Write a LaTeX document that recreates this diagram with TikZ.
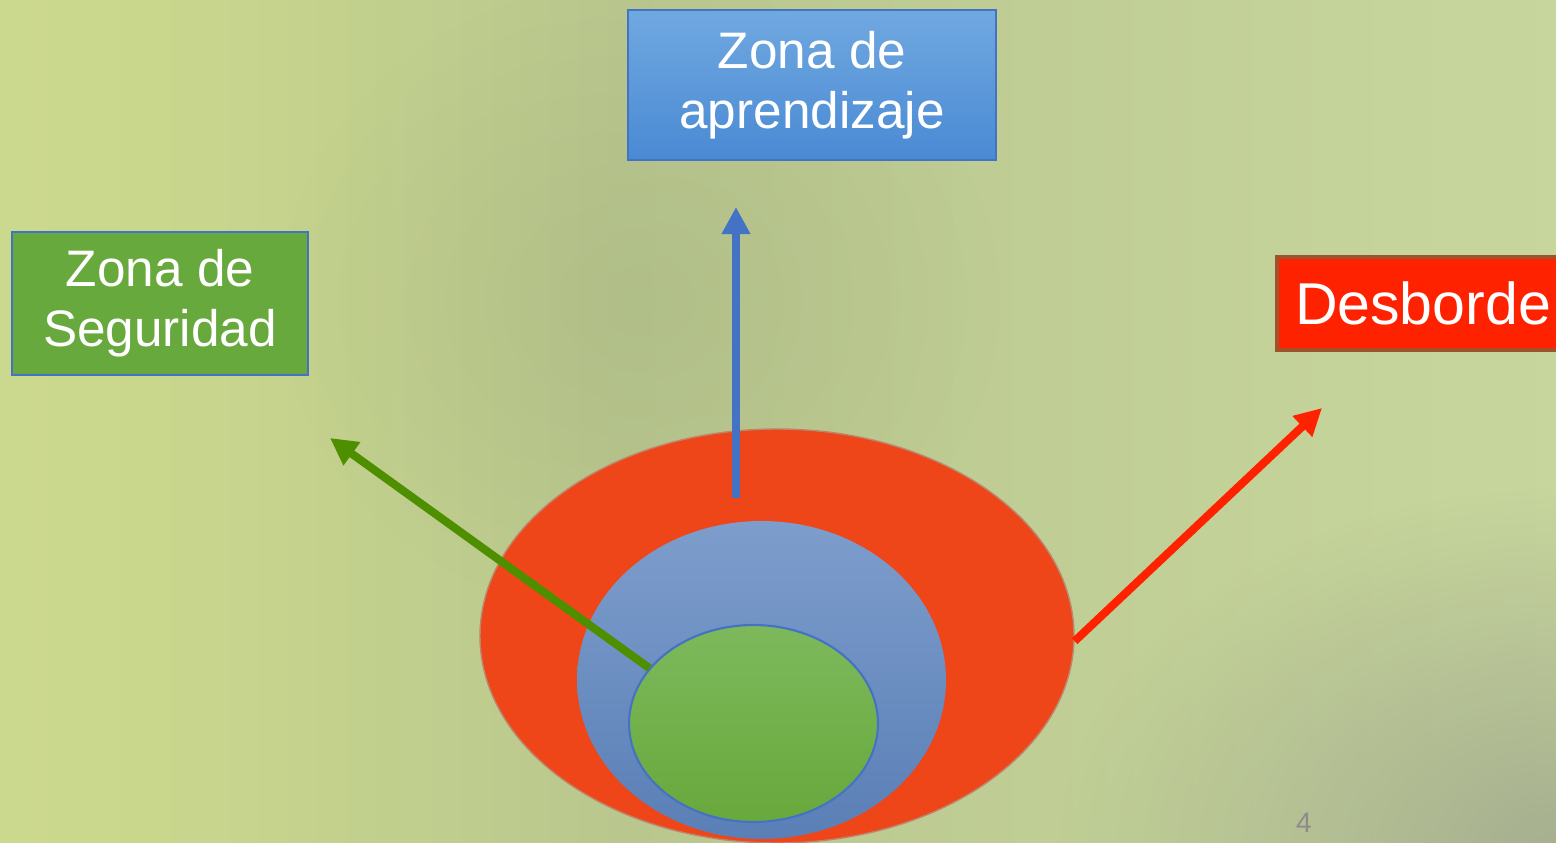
\documentclass[tikz,border=0pt]{standalone}
\usepackage{fontspec}
\setmainfont{Liberation Sans}
\usetikzlibrary{shapes.geometric,arrows.meta,fadings}
\definecolor{bgA}{HTML}{D6E392}
\definecolor{bgB}{HTML}{C9D78D}
\definecolor{bgC}{HTML}{B9C78E}
\definecolor{bgD}{HTML}{C6D59B}
\definecolor{bgE}{HTML}{CCDBA6}
\definecolor{bgDark}{HTML}{989E8A}
\definecolor{learnTop}{HTML}{70A8E0}
\definecolor{learnBot}{HTML}{4A8AD4}
\definecolor{safeFill}{HTML}{68A93E}
\definecolor{overFill}{HTML}{FF2200}
\definecolor{overFrame}{HTML}{A0522D}
\definecolor{frameBlue}{HTML}{4472C4}
\definecolor{outerFill}{HTML}{EE4519}
\definecolor{midTop}{HTML}{7D9DCC}
\definecolor{midBot}{HTML}{5A7FB6}
\definecolor{coreTop}{HTML}{7DB95C}
\definecolor{coreBot}{HTML}{68A83C}
\definecolor{arrGreen}{HTML}{4E8F00}
\pgfdeclarehorizontalshading{bgshade}{100bp}{color(0bp)=(bgA); color(30bp)=(bgB); color(45bp)=(bgC); color(72bp)=(bgD); color(100bp)=(bgE)}
\tikzfading[name=softblob,inner color=transparent!0,outer color=transparent!100]
\begin{document}
\begin{tikzpicture}[
    zonebox/.style={draw=frameBlue,line width=0.6pt,text=white,align=center,inner sep=0pt,font=\fontsize{14.6}{17.2}\selectfont},
    zone/.style={ellipse,inner sep=0pt},
    push/.style={line width=2.3pt,-{Triangle[width=7.7pt,length=7.7pt]}}
  ]
  \useasboundingbox (0,0) rectangle (15.56,-8.43);
  \shade[shading=bgshade] (0,0) rectangle (15.56,-8.43);
  \fill[bgDark,opacity=0.7,path fading=softblob] (15.6,-8.5) ellipse (5 and 3.6);
  \fill[bgC!85!black,opacity=0.3,path fading=softblob] (6.4,-3.0) ellipse (3.6 and 3.2);

  \node[zonebox,top color=learnTop,bottom color=learnBot,minimum width=3.68cm,minimum height=1.50cm] (learn) at (8.12,-0.85) {Zona de\\aprendizaje};
  \node[zonebox,fill=safeFill,minimum width=2.96cm,minimum height=1.43cm] (safe) at (1.60,-3.035) {Zona de\\Seguridad};
  \node[zonebox,draw=overFrame,line width=1pt,fill=overFill,minimum width=2.92cm,minimum height=0.93cm,font=\fontsize{16.8}{20}\selectfont] (over) at (14.23,-3.035) {Desborde};

  \node[zone,draw=overFrame!70,fill=outerFill,minimum width=5.94cm,minimum height=4.14cm] (outer) at (7.77,-6.36) {};
  \node[zone,top color=midTop,bottom color=midBot,minimum width=3.69cm,minimum height=3.18cm] (mid) at (7.615,-6.80) {};
  \node[zone,draw=frameBlue,line width=0.6pt,top color=coreTop,bottom color=coreBot,minimum width=2.49cm,minimum height=1.97cm] (core) at (7.535,-7.235) {};

  \coordinate (learnfoot) at (7.36,-4.98);
  \coordinate (learntip) at (7.36,-2.07);
  \coordinate (safetip) at (3.30,-4.38);
  \coordinate (overtip) at (13.22,-4.08);

  \draw[push,frameBlue] (learnfoot) -- (learntip);
  \draw[push,arrGreen] (core.152) -- (safetip);
  \draw[push,overFill] (outer.359) -- (overtip);

  \node[text=gray!90,font=\fontsize{8}{9}\selectfont] (page) at (13.04,-8.23) {4};
\end{tikzpicture}
\end{document}
